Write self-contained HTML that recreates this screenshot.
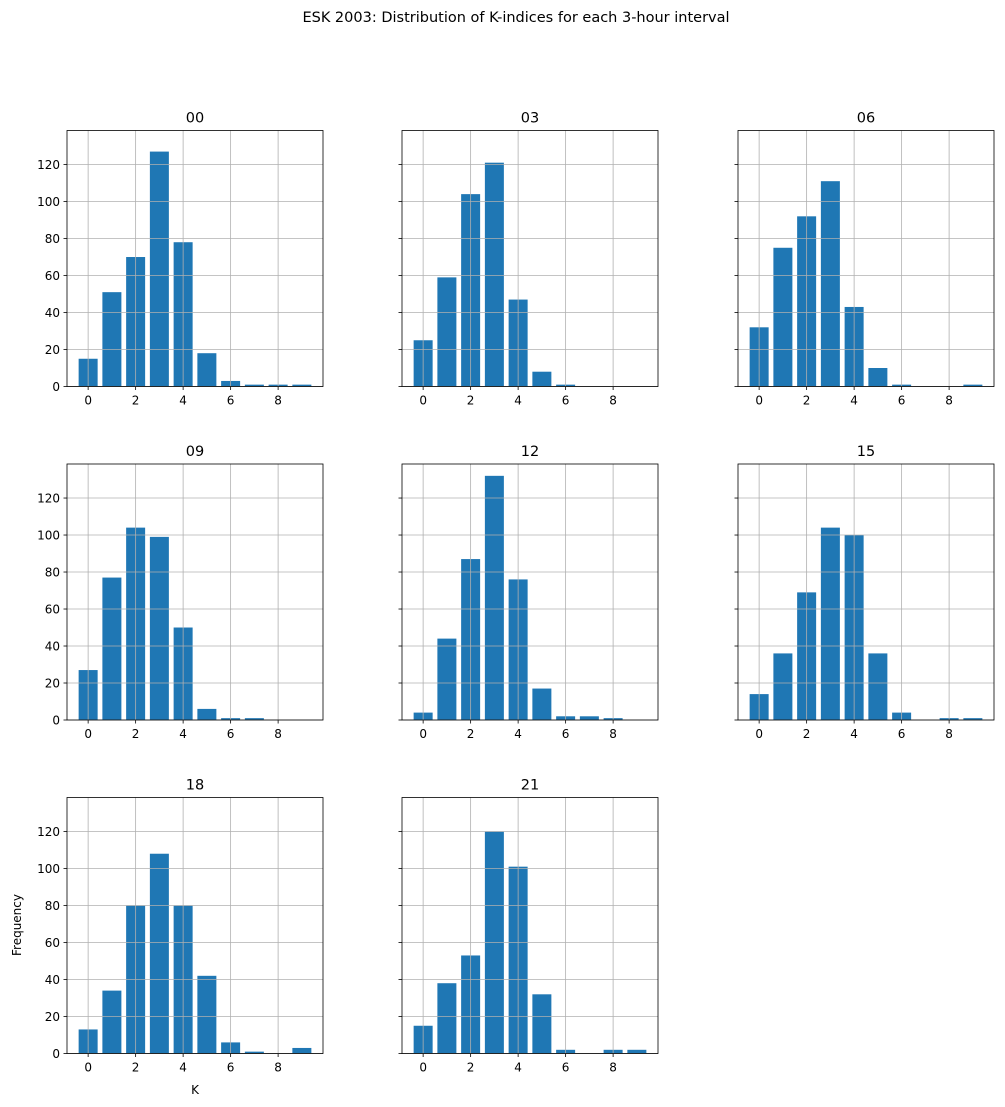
<!DOCTYPE html>
<html><head><meta charset="utf-8"><style>
body{margin:0;background:#fff;}
svg{display:block;font-family:"DejaVu Sans","Liberation Sans",sans-serif;}
</style></head><body>
<svg id="fig" width="1005" height="1107" viewBox="0 0 1005 1107">
<text x="516" y="22" text-anchor="middle" font-size="14.5">ESK 2003: Distribution of K-indices for each 3-hour interval</text>
</svg>
<script>
const categories = [0,1,2,3,4,5,6,7,8,9];
const panelTitles = ["00","03","06","09","12","15","18","21"];
const s00 = [15,51,70,127,78,18,3,1,1,1];
const s03 = [25,59,104,121,47,8,1,0,0,0];
const s06 = [32,75,92,111,43,10,1,0,0,1];
const s09 = [27,77,104,99,50,6,1,1,0,0];
const s12 = [4,44,87,132,76,17,2,2,1,0];
const s15 = [14,36,69,104,100,36,4,0,1,1];
const s18 = [13,34,80,108,80,42,6,1,0,3];
const s21 = [15,38,53,120,101,32,2,0,2,2];
const series = [s00,s03,s06,s09,s12,s15,s18,s21];
const yTicks = [0,20,40,60,80,100,120];
const xTicks = [0,2,4,6,8];

const NS="http://www.w3.org/2000/svg";
const svg=document.getElementById('fig');
function mk(tag,attrs,parent){const e=document.createElementNS(NS,tag);for(const k in attrs)e.setAttribute(k,attrs[k]);(parent||svg).appendChild(e);return e;}
const colX=[67,402,738], rowY=[130.5,464,797.5], W=256, H=256;
const xMin=-0.89, xMax=9.89, yMax=138.4;

series.forEach((vals,i)=>{
  const ox=colX[i%3], oy=rowY[Math.floor(i/3)];
  const sx=v=>ox+(v-xMin)/(xMax-xMin)*W;
  const sy=v=>oy+H-v/yMax*H;
  const g=mk('g',{});
  
  
  categories.forEach((c,j)=>{
    const v=vals[j]; if(v<=0) return;
    const r=mk('rect',{x:sx(c-0.4),y:sy(v),width:sx(c+0.4)-sx(c-0.4),height:sy(0)-sy(v),fill:'#1f77b4'},g);
    
    
  });
  xTicks.forEach(t=>{
    const x=sx(t);
    const l=mk('line',{x1:x,x2:x,y1:oy,y2:oy+H,stroke:'#b0b0b0','stroke-width':0.8},g);
    
    
    mk('line',{x1:x,x2:x,y1:oy+H,y2:oy+H+3.5,stroke:'#000','stroke-width':0.8},g);
    const tx=mk('text',{x:x,y:oy+H+18,'text-anchor':'middle','font-size':'12'},g);
    tx.textContent=t;
    
    
  });
  yTicks.forEach(t=>{
    const y=sy(t);
    const l=mk('line',{x1:ox,x2:ox+W,y1:y,y2:y,stroke:'#b0b0b0','stroke-width':0.8},g);
    
    
    mk('line',{x1:ox-3.5,x2:ox,y1:y,y2:y,stroke:'#000','stroke-width':0.8},g);
    if(i%3===0){
      const tx=mk('text',{x:ox-7,y:y+4.5,'text-anchor':'end','font-size':'12'},g);
      tx.textContent=t;
      
      
    }
  });
  const fr=mk('rect',{x:ox,y:oy,width:W,height:H,fill:'none',stroke:'#000','stroke-width':0.8},g);
  
  
  const ti=mk('text',{x:ox+W/2,y:oy-8,'text-anchor':'middle','font-size':'14.5'},g);
  ti.textContent=panelTitles[i];
  
  
});
const xl=mk('text',{x:195,y:1094,'text-anchor':'middle','font-size':'12'});
xl.textContent='K';


const yl=mk('text',{x:21,y:925,'text-anchor':'middle','font-size':'12',transform:'rotate(-90 21 925)'});
yl.textContent='Frequency';


</script>
</body></html>
